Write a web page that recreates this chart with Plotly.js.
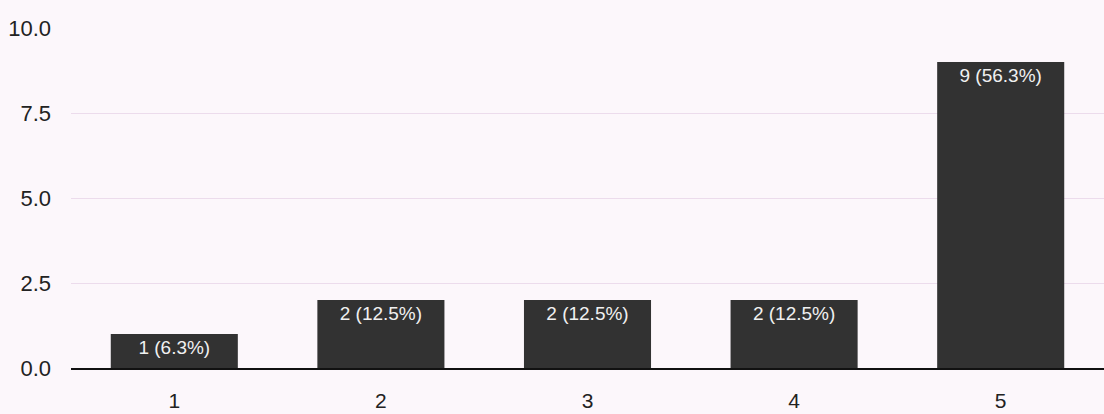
<!DOCTYPE html>
<html><head><meta charset="utf-8">
<script src="https://cdn.plot.ly/plotly-3.0.1.min.js"></script>
<style>html,body{margin:0;padding:0;background:#fcf7fb;}</style>
</head><body><div id="chart" style="width:1104px;height:414px;"></div>
<script>
const categories = ["1", "2", "3", "4", "5"];
const counts = [1, 2, 2, 2, 9];
const barLabels = ["1 (6.3%)", "2 (12.5%)", "2 (12.5%)", "2 (12.5%)", "9 (56.3%)"];
const yTicks = [0, 2.5, 5, 7.5, 10];

Plotly.newPlot("chart", [{
  type: "bar",
  x: categories,
  y: counts,
  text: barLabels,
  textposition: "inside",
  insidetextanchor: "end",
  textangle: 0,
  textfont: {family: "Liberation Sans, Arial, sans-serif", size: 19, color: "#f0f0f0"},
  marker: {color: "#323232", line: {width: 0}},
  hoverinfo: "none"
}], {
  width: 1104, height: 414,
  margin: {l: 71, r: 0, t: 28, b: 46},
  paper_bgcolor: "#fcf7fb",
  plot_bgcolor: "#fcf7fb",
  bargap: 0.385,
  showlegend: false,
  uniformtext: {minsize: 19, mode: "show"},
  font: {family: "Liberation Sans, Arial, sans-serif", size: 22, color: "#222"},
  xaxis: {
    type: "category",
    showgrid: false,
    showline: true, linecolor: "#111", linewidth: 2,
    ticks: "", ticklabelstandoff: 13,
    tickfont: {size: 21, color: "#222"}
  },
  yaxis: {
    range: [0, 10],
    tickvals: yTicks,
    ticktext: yTicks.map(v => v.toFixed(1)),
    showgrid: true, gridcolor: "#ecdcec", gridwidth: 1,
    zeroline: false,
    showline: false,
    ticks: "", ticklabelstandoff: 19,
    tickfont: {size: 22, color: "#222"}
  }
}, {displayModeBar: false, staticPlot: true});
</script></body></html>
